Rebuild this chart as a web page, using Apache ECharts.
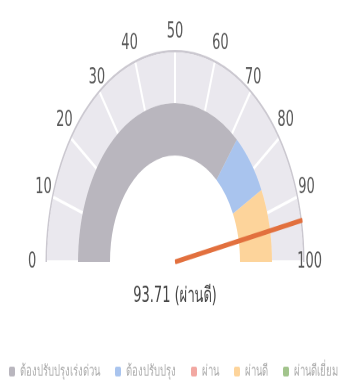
<!DOCTYPE html>
<html><head><meta charset="utf-8">
<script src="https://cdn.jsdelivr.net/npm/echarts@6/dist/echarts.min.js"></script>
<style>
html,body{margin:0;padding:0;background:#fff;overflow:hidden;width:348px;height:383px}
#chart{width:348px;height:234px;transform:scaleY(1.6368);transform-origin:0 0}
</style></head><body><div id="chart"></div>
<script>
// Score and its grade
const score = 93.71;
const scoreGrade = 'ผ่านดี';

// Scale
const scaleMin = 0;
const scaleMax = 100;
const scaleStep = 10;

// Grade bands (legend)
const bandNames = ['ต้องปรับปรุงเร่งด่วน', 'ต้องปรับปรุง', 'ผ่าน', 'ผ่านดี', 'ผ่านดีเยี่ยม'];
const bandColors = ['#b9b6be', '#a9c4ee', '#f2a8a2', '#fdd49b', '#a2c48c'];

// Coloured ring: segment end values and which band colour each uses
const ringEnds = [72, 85, 100];
const ringBand = [0, 1, 3];

const ringColors = ringEnds.map((v, i) => [(v - scaleMin) / (scaleMax - scaleMin), bandColors[ringBand[i]]]);
const splits = (scaleMax - scaleMin) / scaleStep;
const center = [175, 160];

const chart = echarts.init(document.getElementById('chart'), null, { renderer: 'canvas', devicePixelRatio: 2 });

const base = {
  type: 'gauge', center: center, startAngle: 180, endAngle: 0,
  min: scaleMin, max: scaleMax, splitNumber: splits,
  axisTick: { show: false }, splitLine: { show: false }, axisLabel: { show: false },
  pointer: { show: false }, anchor: { show: false }, title: { show: false }, detail: { show: false },
  silent: true, animation: false
};

chart.setOption({
  animation: false,
  legend: {
    data: bandNames, left: 4, top: 217, icon: 'roundRect', itemWidth: 6, itemHeight: 6, itemGap: 15,
    textStyle: { fontSize: 9.5, color: '#ababab', fontFamily: 'Noto Sans' }, selectedMode: false
  },
  grid: { left: 0, top: 0, width: 1, height: 1, show: false },
  xAxis: { show: false, type: 'category', data: [] },
  yAxis: { show: false },
  series: [
    Object.assign({}, base, {
      radius: 129.5,
      axisLine: { lineStyle: { width: 1.5, color: [[1, '#cbc8d0']] } },
      data: []
    }),
    Object.assign({}, base, {
      radius: 128,
      axisLine: { lineStyle: { width: 31, color: [[1, '#eae8ee']] } },
      splitLine: { show: true, distance: -31, length: 31, lineStyle: { color: '#ffffff', width: 2 } },
      axisLabel: {
        show: true, distance: -19, color: '#595959', fontSize: 13, fontFamily: 'DejaVu Sans',
        align: 'center', verticalAlign: 'middle'
      },
      data: []
    }),
    Object.assign({}, base, {
      radius: 97,
      axisLine: { lineStyle: { width: 32, color: ringColors } },
      pointer: {
        show: true, icon: 'roundRect', length: 130, width: 3, offsetCenter: [0, 0],
        itemStyle: { color: '#e2703e' }
      },
      detail: {
        show: true, offsetCenter: [0, 21], fontSize: 13, fontWeight: 'normal', color: '#444',
        fontFamily: 'DejaVu Sans', formatter: v => v.toFixed(2) + ' (' + scoreGrade + ')'
      },
      data: [{ value: score }]
    })
  ].concat(bandNames.map((n, i) => ({ type: 'bar', name: n, data: [], itemStyle: { color: bandColors[i] } })))
});
</script></body></html>
